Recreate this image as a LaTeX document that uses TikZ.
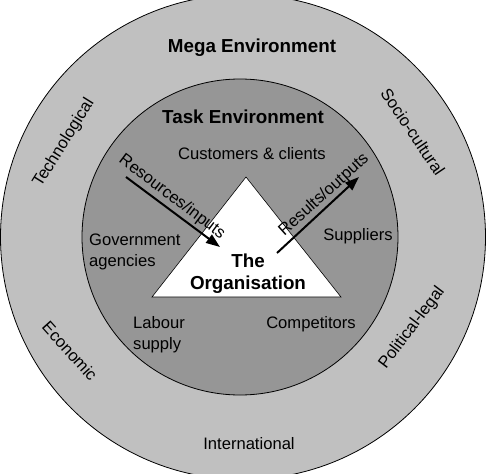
\documentclass[tikz,border=0pt]{standalone}
\usepackage{fontspec}
\setmainfont{Liberation Sans}
\usetikzlibrary{arrows.meta}
\definecolor{outerg}{RGB}{192,192,192}
\definecolor{innerg}{RGB}{150,150,150}
\begin{document}
\begin{tikzpicture}[x=1pt,y=-1pt,
  lbl/.style={font=\fontsize{16.6}{21}\selectfont, inner sep=0pt, align=left},
  ttl/.style={font=\fontsize{18.8}{22}\selectfont\bfseries, inner sep=0pt, align=center},
  flow/.style={line width=2pt, -{Triangle[length=14pt,width=10pt]}}]
\useasboundingbox (0,0) rectangle (488,474);
\begin{scope}
\clip (0,0) rectangle (488,474);
\fill[white] (0,0) rectangle (488,474);
\draw[fill=outerg, line width=0.8pt] (243,237) circle[radius=242.5];
\draw[fill=innerg, line width=0.8pt] (240,237) circle[radius=158];
\end{scope}
\coordinate (apex) at (246,177);
\coordinate (bl) at (152,297);
\coordinate (br) at (341,297);
\draw[fill=white, line width=0.6pt] (apex) -- (br) -- (bl) -- cycle;
\node[ttl] (mega) at (252,48) {Mega Environment};
\node[ttl] (task) at (243,117) {Task Environment};
\node[ttl] (org) at (248,274) {The\\Organisation};
\node[lbl] (cust) at (252,154) {Customers \& clients};
\node[lbl, anchor=west] (gov) at (89,252) {Government\\agencies};
\node[lbl] (sup) at (358,236) {Suppliers};
\node[lbl, anchor=west] (lab) at (133,335) {Labour\\supply};
\node[lbl] (comp) at (311,324) {Competitors};
\node[lbl] (intl) at (249,444) {International};
\node[lbl, rotate=58] (tech) at (64,143) {Technological};
\node[lbl, rotate=-56] (socio) at (413,132) {Socio-cultural};
\node[lbl, rotate=-48] (econ) at (70,351) {Economic};
\node[lbl, rotate=53] (pol) at (412,328) {Political-legal};
\coordinate (rin1) at (126,177);
\coordinate (rin2) at (220,247);
\coordinate (rout1) at (277,253);
\coordinate (rout2) at (359,177);
\draw[flow] (rin1) -- (rin2);
\draw[flow] (rout1) -- (rout2);
\node[lbl, rotate=-37] (res) at (172,197) {Resources/inputs};
\node[lbl, rotate=42] (out) at (324,195) {Results/outputs};
\end{tikzpicture}
\end{document}
